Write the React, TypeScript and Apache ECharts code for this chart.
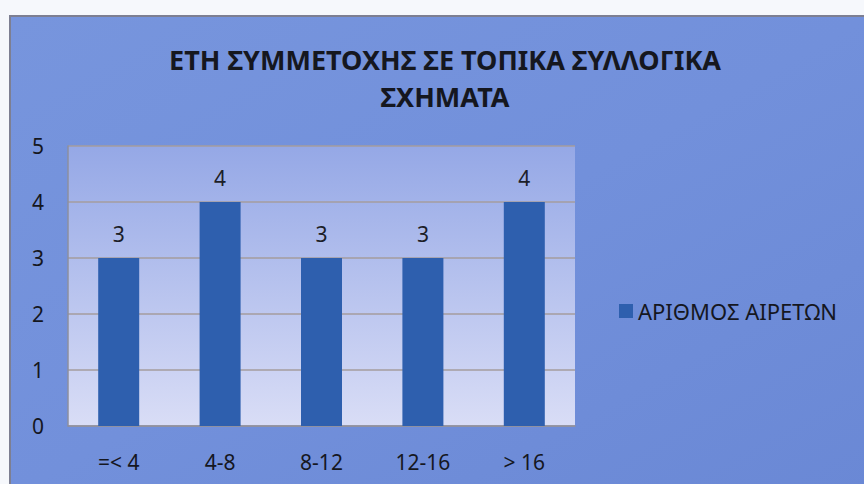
import React, { useEffect, useRef } from "react";
import * as echarts from "echarts";

const categories = ["=< 4", "4-8", "8-12", "12-16", "> 16"];
const values = [3, 4, 3, 3, 4];
const seriesName = "ΑΡΙΘΜΟΣ ΑΙΡΕΤΩΝ";
const titleLines = ["ΕΤΗ ΣΥΜΜΕΤΟΧΗΣ ΣΕ ΤΟΠΙΚΑ ΣΥΛΛΟΓΙΚΑ", "ΣΧΗΜΑΤΑ"];
const yMin = 0;
const yMax = 5;
const yInterval = 1;

const FONT = "'Noto Sans', 'DejaVu Sans', sans-serif";
const INK = "#15171f";

export default function App() {
  const ref = useRef<HTMLDivElement>(null);
  useEffect(() => {
    if (!ref.current) return;
    const chart = echarts.init(ref.current, undefined, { renderer: "svg" });
    chart.setOption({
      animation: false,
      backgroundColor: "#f6f8fc",
      textStyle: { fontFamily: FONT },
      graphic: [
        {
          type: "rect",
          z: -10,
          silent: true,
          shape: { x: 10, y: 16, width: 860, height: 480 },
          style: {
            fill: new echarts.graphic.LinearGradient(0, 0, 1, 1, [
              { offset: 0, color: "#7795dd" },
              { offset: 0.5, color: "#7290db" },
              { offset: 1, color: "#6a88d5" },
            ]),
            stroke: "#7d7f92",
            lineWidth: 2,
          },
        },
        {
          type: "text",
          x: 445,
          y: 59,
          style: {
            text: titleLines[0],
            font: `bold 27px ${FONT}`,
            fill: INK,
            align: "center",
            verticalAlign: "middle",
          },
        },
        {
          type: "text",
          x: 445,
          y: 96,
          style: {
            text: titleLines[1],
            font: `bold 27px ${FONT}`,
            fill: INK,
            align: "center",
            verticalAlign: "middle",
          },
        },
      ],
      legend: {
        show: true,
        left: 614,
        top: 295,
        icon: "rect",
        itemWidth: 14,
        itemHeight: 14,
        itemGap: 6,
        textStyle: { fontSize: 22, color: INK, fontFamily: FONT },
        data: [seriesName],
      },
      grid: {
        left: 68,
        right: 289,
        top: 146,
        bottom: 58,
        show: true,
        borderWidth: 0,
        backgroundColor: new echarts.graphic.LinearGradient(0, 0, 0, 1, [
          { offset: 0, color: "#95a8e6" },
          { offset: 1, color: "#d9ddf6" },
        ]),
      },
      xAxis: {
        type: "category",
        data: categories,
        axisLine: { show: true, lineStyle: { color: "#8d8f9f", width: 1.5 } },
        axisTick: { show: false },
        axisLabel: {
          margin: 25,
          fontSize: 21,
          color: INK,
          fontFamily: FONT,
        },
      },
      yAxis: {
        type: "value",
        min: yMin,
        max: yMax,
        interval: yInterval,
        axisLine: { show: true, lineStyle: { color: "#8d8f9f", width: 1.5 } },
        axisTick: { show: false },
        axisLabel: {
          margin: 24,
          fontSize: 21,
          color: INK,
          fontFamily: FONT,
        },
        splitLine: { show: true, lineStyle: { color: "#a49c9e", width: 1.5 } },
      },
      series: [
        {
          name: seriesName,
          type: "bar",
          data: values,
          barWidth: 41,
          itemStyle: { color: "#2e5fae" },
          label: {
            show: true,
            position: "top",
            distance: 14,
            fontSize: 21,
            color: "#1c1e28",
            fontFamily: FONT,
          },
        },
      ],
    });
    return () => chart.dispose();
  }, []);
  return (
    <div
      ref={ref}
      style={{ position: "fixed", left: 0, top: 0, width: 864, height: 484 }}
    />
  );
}
